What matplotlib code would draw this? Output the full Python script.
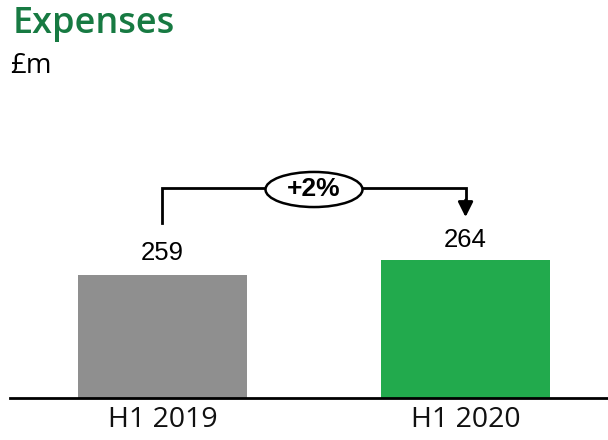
import matplotlib
matplotlib.use("Agg")
import matplotlib.pyplot as plt
from matplotlib.patches import Ellipse

categories = ["H1 2019", "H1 2020"]
values = [259, 264]
colors = ["#8F8F8F", "#22AA4D"]
change_label = "+2%"
title = "Expenses"
unit = "£m"

fig = plt.figure(figsize=(6.08, 4.40), dpi=100)
ax = fig.add_axes([10/608, 42/440, 1 - 10/608, 298/440])
x = list(range(len(categories)))
ax.bar(x, values, width=0.558, color=colors, zorder=2)
ax.set_ylim(218, 218 + 298/3)
ax.set_xlim(-0.503, 1.470)
ax.set_xticks(x)
ax.set_xticklabels(categories, fontfamily="Open Sans", fontsize=20.5, color="#111111")
ax.tick_params(axis="x", length=0, pad=6)
ax.set_yticks([])
for s in ["top", "right", "left"]:
    ax.spines[s].set_visible(False)
ax.spines["bottom"].set_linewidth(2)
ax.spines["bottom"].set_color("black")

# value labels
for xi, v, off in zip(x, values, [7.5, 6.7]):
    ax.text(xi, v + off, str(v), ha="center", va="center",
            fontfamily="Liberation Sans", fontsize=18.5, color="black")

# change connector
yc = 288.0
ax.plot([x[0], x[0], x[1], x[1]], [values[0] + 17.3, yc, yc, values[1] + 19.0],
        color="black", lw=2, solid_joinstyle="miter", zorder=3)
ax.annotate("", xy=(x[1], values[1] + 14.3), xytext=(x[1], values[1] + 20.0),
            arrowprops=dict(arrowstyle="-|>,head_length=0.9,head_width=0.45",
                            color="black", lw=2, shrinkA=0, shrinkB=0))
ell = Ellipse((0.5, yc - 0.5), 0.32, 11.7, facecolor="white", edgecolor="black",
              lw=1.8, zorder=4)
ax.add_patch(ell)
ax.text(0.5, yc - 0.3, change_label, ha="center", va="center", fontweight="bold",
        fontfamily="Liberation Sans", fontsize=19, zorder=5)

fig.text(13/608, 1 - 33/440, title, ha="left", va="baseline", fontfamily="Open Sans",
         fontweight="semibold", fontsize=26, color="#177A42")
fig.text(10/608, 1 - 73/440, unit, ha="left", va="baseline", fontfamily="Open Sans",
         fontsize=20, color="black")

fig.savefig("out.png", dpi=100)
